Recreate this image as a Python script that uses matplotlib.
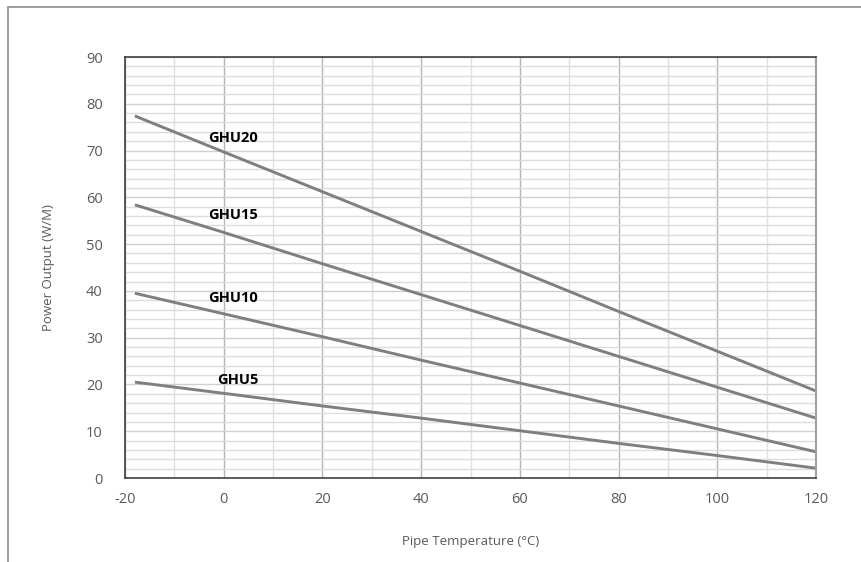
import matplotlib
matplotlib.use("Agg")
import matplotlib.pyplot as plt
from matplotlib.patches import Rectangle
from matplotlib.ticker import MultipleLocator

temps = [-18, 0, 20, 40, 60, 80, 100, 120]
ghu20 = [77.4, 69.7, 61.2, 52.7, 44.2, 35.6, 27.1, 18.6]
ghu15 = [58.4, 52.5, 45.8, 39.2, 32.6, 26.0, 19.4, 12.8]
ghu10 = [39.5, 35.1, 30.2, 25.2, 20.3, 15.4, 10.5, 5.6]
ghu5 = [20.5, 18.1, 15.4, 12.8, 10.1, 7.4, 4.8, 2.1]

series = [("GHU20", ghu20, 72.7), ("GHU15", ghu15, 56.2),
          ("GHU10", ghu10, 38.5), ("GHU5", ghu5, 20.9)]

plt.rcParams["font.family"] = ["Open Sans", "DejaVu Sans"]
plt.rcParams["axes.unicode_minus"] = False

fig = plt.figure(figsize=(8.62, 5.62), dpi=100)
ax = fig.add_axes([125 / 862, 1 - 478 / 562, (816 - 125) / 862, (478 - 57) / 562])

# outer chart border (cut off on right and bottom)
fig.patches.append(Rectangle((8 / 862, -0.05), 1.2, 1 - 7 / 562 + 0.05,
                             transform=fig.transFigure, fill=False,
                             edgecolor="#8c8c8c", linewidth=1.2))

for name, vals, ly in series:
    ax.plot(temps, vals, color="#7f7f7f", linewidth=2.1, solid_capstyle="butt")
    ax.text(1.8 if name != "GHU5" else 2.8, ly, name, fontsize=10.5,
            fontweight="bold", color="black", ha="center", va="center")

ax.set_xlim(-20, 120)
ax.set_ylim(0, 90)
ax.xaxis.set_major_locator(MultipleLocator(20))
ax.xaxis.set_minor_locator(MultipleLocator(10))
ax.yaxis.set_major_locator(MultipleLocator(10))
ax.yaxis.set_minor_locator(MultipleLocator(2))

ax.grid(which="major", axis="x", color="#b5b5b5", linewidth=1)
ax.grid(which="minor", axis="x", color="#e0e0e0", linewidth=1)
ax.grid(which="major", axis="y", color="#cfcfcf", linewidth=1)
ax.grid(which="minor", axis="y", color="#dcdcdc", linewidth=1)
ax.set_axisbelow(True)

for s in ax.spines.values():
    s.set_color("#404040")
    s.set_linewidth(1.2)
ax.spines["right"].set_color("#a0a0a0")
ax.spines["right"].set_linewidth(1.5)

ax.tick_params(which="both", length=0)
ax.tick_params(axis="x", pad=10, labelsize=10.5, labelcolor="#595959")
ax.tick_params(axis="y", pad=16, labelsize=10.5, labelcolor="#595959")

ax.set_xlabel("Pipe Temperature (°C)", fontsize=9.5, color="#595959", labelpad=20)
ax.set_ylabel("Power Output (W/M)", fontsize=9.5, color="#595959", labelpad=22)

fig.savefig("out.png", dpi=100)
